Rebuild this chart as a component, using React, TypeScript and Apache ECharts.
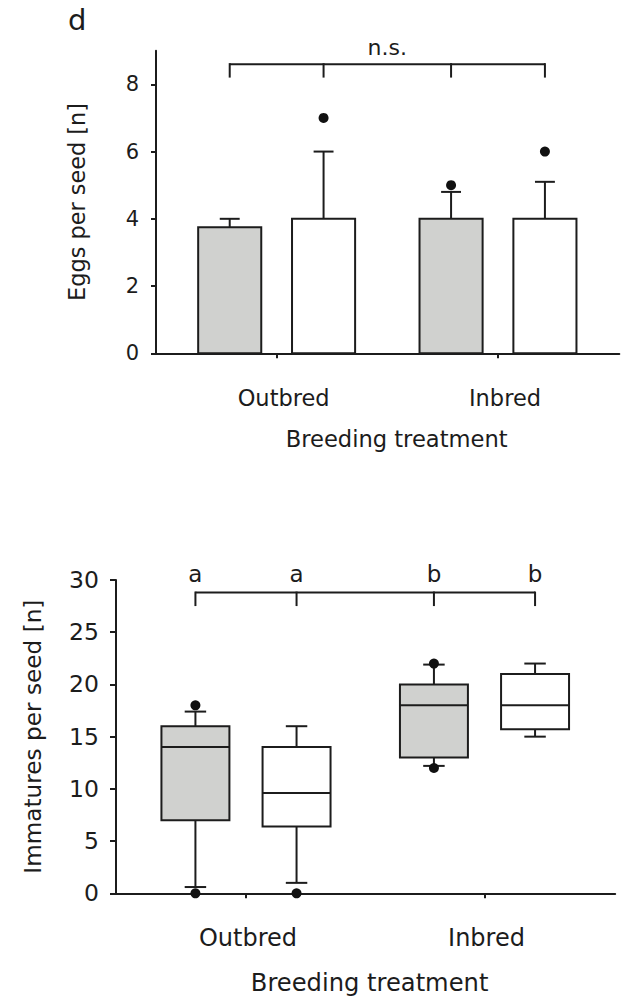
import React, { useEffect, useRef } from 'react';
import * as echarts from 'echarts';

// ---------- data ----------
const groups = ['Outbred', 'Inbred'];
const xTitle = 'Breeding treatment';

// panel d (top): eggs per seed
const eggTitle = 'Eggs per seed [n]';
const eggTicks = [0, 2, 4, 6, 8];
const eggGreyBar = [3.75, 4];
const eggGreyErr = [4, 4.8];
const eggGreyOut = [null, 5];
const eggWhiteBar = [4, 4];
const eggWhiteErr = [6, 5.1];
const eggWhiteOut = [7, 6];
const eggBracketTop = 8.6;
const eggBracketTick = 8.23;
const eggSignif = 'n.s.';
const eggSignifAt = 8.78;

// bottom panel: immatures per seed  [min, q1, median, q3, max]
const immTitle = 'Immatures per seed [n]';
const immTicks = [0, 5, 10, 15, 20, 25, 30];
const immGreyBox = [
  [0.6, 7, 14, 16, 17.4],
  [12.2, 13, 18, 20, 21.9],
];
const immWhiteBox = [
  [1, 6.4, 9.6, 14, 16],
  [15, 15.7, 18, 21, 22],
];
const immGreyOut = [[0, 18], [12, 22]];
const immWhiteOut = [[0], []];
const immLetters = ['a', 'a', 'b', 'b'];
const immLetterAt = 29.5;
const immBracketTop = 28.8;
const immBracketTick = 27.6;

// ---------- style / layout ----------
const INK = '#1c1c1c';
const GREY = '#d0d1cf';
const FONT = 'DejaVu Sans';
const OFF = 0.212;
const BW = 0.285;
const CAP = 0.09;
const XMIN = -0.545;
const XMAX = 1.548;

const xs = groups.flatMap((_, i) => [i - OFF, i + OFF]);

function barItem(params: any, api: any) {
  const x = api.value(0), m = api.value(1), u = api.value(2), f = api.value(3);
  const bl = api.coord([x - BW / 2, 0]);
  const tr = api.coord([x + BW / 2, m]);
  const a = api.coord([x, m]);
  const b = api.coord([x, u]);
  const c1 = api.coord([x - CAP / 2, u]);
  const c2 = api.coord([x + CAP / 2, u]);
  return {
    type: 'group',
    children: [
      { type: 'line', shape: { x1: a[0], y1: a[1], x2: b[0], y2: b[1] }, style: { stroke: INK, lineWidth: 2 } },
      { type: 'line', shape: { x1: c1[0], y1: c1[1], x2: c2[0], y2: c2[1] }, style: { stroke: INK, lineWidth: 2 } },
      {
        type: 'rect',
        shape: { x: bl[0], y: tr[1], width: tr[0] - bl[0], height: bl[1] - tr[1] },
        style: { fill: f ? '#ffffff' : GREY, stroke: INK, lineWidth: 2 },
      },
    ],
  };
}

function boxItem(params: any, api: any) {
  const x = api.value(0);
  const mn = api.value(1), q1 = api.value(2), md = api.value(3), q3 = api.value(4), mx = api.value(5);
  const f = api.value(6);
  const L = (x1: number, y1: number, x2: number, y2: number) => {
    const p = api.coord([x1, y1]);
    const q = api.coord([x2, y2]);
    return { type: 'line', shape: { x1: p[0], y1: p[1], x2: q[0], y2: q[1] }, style: { stroke: INK, lineWidth: 2 } };
  };
  const bl = api.coord([x - BW / 2, q1]);
  const tr = api.coord([x + BW / 2, q3]);
  return {
    type: 'group',
    children: [
      L(x, mn, x, q1),
      L(x - CAP / 2, mn, x + CAP / 2, mn),
      L(x, q3, x, mx),
      L(x - CAP / 2, mx, x + CAP / 2, mx),
      {
        type: 'rect',
        shape: { x: bl[0], y: tr[1], width: tr[0] - bl[0], height: bl[1] - tr[1] },
        style: { fill: f ? '#ffffff' : GREY, stroke: INK, lineWidth: 2 },
      },
      L(x - BW / 2, md, x + BW / 2, md),
    ],
  };
}

function bracketItem(top: number) {
  return (params: any, api: any) => {
    const i = params.dataIndex;
    const x = api.value(0);
    const p = api.coord([x, api.value(1)]);
    const q = api.coord([x, api.value(2)]);
    const children: any[] = [
      { type: 'line', shape: { x1: p[0], y1: p[1], x2: q[0], y2: q[1] }, style: { stroke: INK, lineWidth: 2, lineCap: 'square' } },
    ];
    if (i < xs.length - 1) {
      const r = api.coord([xs[i + 1], top]);
      children.push({ type: 'line', shape: { x1: p[0], y1: p[1], x2: r[0], y2: r[1] }, style: { stroke: INK, lineWidth: 2 } });
    }
    return { type: 'group', children };
  };
}

function textItem(size: number) {
  return (params: any, api: any) => {
    const p = api.coord([api.value(0), api.value(1)]);
    return {
      type: 'text',
      style: {
        text: String(api.value(2)),
        x: p[0],
        y: p[1],
        textAlign: 'center',
        textVerticalAlign: 'bottom',
        fontSize: size,
        fontFamily: FONT,
        fill: INK,
      },
    };
  };
}

export default function App() {
  const ref = useRef<HTMLDivElement>(null);
  useEffect(() => {
    if (!ref.current) return;
    const chart = echarts.init(ref.current, null, { renderer: 'svg' });

    const eggBars = groups.flatMap((_, i) => [
      [i - OFF, eggGreyBar[i], eggGreyErr[i], 0],
      [i + OFF, eggWhiteBar[i], eggWhiteErr[i], 1],
    ]);
    const eggOut: any[] = [];
    groups.forEach((_, i) => {
      if (eggGreyOut[i] != null) eggOut.push([i - OFF, eggGreyOut[i]]);
      if (eggWhiteOut[i] != null) eggOut.push([i + OFF, eggWhiteOut[i]]);
    });
    const immBoxes = groups.flatMap((_, i) => [
      [i - OFF, ...immGreyBox[i], 0],
      [i + OFF, ...immWhiteBox[i], 1],
    ]);
    const immOut: any[] = [];
    groups.forEach((_, i) => {
      immGreyOut[i].forEach((v) => immOut.push([i - OFF, v]));
      immWhiteOut[i].forEach((v) => immOut.push([i + OFF, v]));
    });

    const xAxisBase = (grid: number, labelSize: number, nameSize: number, nameGap: number, labelPad: number, namePad: number) => ({
      gridIndex: grid,
      type: 'value',
      min: XMIN,
      max: XMAX,
      splitLine: { show: false },
      axisLine: { onZero: false, lineStyle: { color: INK, width: 2 } },
      axisTick: { show: true, customValues: [0, 1], length: 5, lineStyle: { color: INK, width: 2 } },
      axisLabel: {
        customValues: [0, 1],
        formatter: (v: number) => groups[Math.round(v)] ?? '',
        margin: 33,
        fontSize: labelSize,
        fontFamily: FONT,
        color: INK,
        padding: [0, 0, 0, labelPad],
      },
      name: xTitle,
      nameLocation: 'middle',
      nameGap,
      nameTextStyle: { fontSize: nameSize, fontFamily: FONT, color: INK, padding: [0, 0, 0, namePad] },
    });

    const yAxisBase = (grid: number, max: number, ticks: number[], title: string, labelSize: number, nameSize: number, nameGap: number, tickLen: number) => ({
      gridIndex: grid,
      type: 'value',
      min: 0,
      max,
      splitLine: { show: false },
      axisLine: { show: true, onZero: false, lineStyle: { color: INK, width: 2 } },
      axisTick: { show: true, customValues: ticks, length: tickLen, lineStyle: { color: INK, width: 2 } },
      axisLabel: { customValues: ticks, margin: 17, fontSize: labelSize, fontFamily: FONT, color: INK },
      name: title,
      nameLocation: 'middle',
      nameGap,
      nameTextStyle: { fontSize: nameSize, fontFamily: FONT, color: INK },
    });

    chart.setOption({
      animation: false,
      backgroundColor: '#ffffff',
      textStyle: { fontFamily: FONT, color: INK },
      grid: [
        { left: 156, right: 11.7, top: 50.7, bottom: 643.7 },
        { left: 116, right: 15.8, top: 580, bottom: 103.7 },
      ],
      xAxis: [
        xAxisBase(0, 22.5, 22.6, 74, 14, 18),
        xAxisBase(1, 24, 24.2, 78, 4, 8),
      ],
      yAxis: [
        yAxisBase(0, 9, eggTicks, eggTitle, 21, 22.4, 68, 5),
        yAxisBase(1, 30, immTicks, immTitle, 23.5, 23.2, 72, 6),
      ],
      graphic: [
        { type: 'text', left: 68, top: 5, style: { text: 'd', fontSize: 29, fontFamily: FONT, fill: INK } },
      ],
      series: [
        { type: 'custom', xAxisIndex: 0, yAxisIndex: 0, renderItem: barItem, data: eggBars, z: 3 },
        {
          type: 'scatter', xAxisIndex: 0, yAxisIndex: 0, data: eggOut, symbol: 'circle', symbolSize: 10,
          itemStyle: { color: '#111111', opacity: 1 }, clip: false, z: 5,
        },
        {
          type: 'custom', xAxisIndex: 0, yAxisIndex: 0, renderItem: bracketItem(eggBracketTop),
          data: xs.map((x) => [x, eggBracketTop, eggBracketTick]), z: 3,
        },
        {
          type: 'custom', xAxisIndex: 0, yAxisIndex: 0, renderItem: textItem(22),
          data: [[0.5, eggSignifAt, eggSignif]], z: 3,
        },
        { type: 'custom', xAxisIndex: 1, yAxisIndex: 1, renderItem: boxItem, data: immBoxes, z: 3 },
        {
          type: 'scatter', xAxisIndex: 1, yAxisIndex: 1, data: immOut, symbol: 'circle', symbolSize: 10,
          itemStyle: { color: '#111111', opacity: 1 }, clip: false, z: 5,
        },
        {
          type: 'custom', xAxisIndex: 1, yAxisIndex: 1, renderItem: bracketItem(immBracketTop),
          data: xs.map((x) => [x, immBracketTop, immBracketTick]), z: 3,
        },
        {
          type: 'custom', xAxisIndex: 1, yAxisIndex: 1, renderItem: textItem(23),
          data: xs.map((x, i) => [x, immLetterAt, immLetters[i]]), z: 3,
        },
      ],
    });
    return () => chart.dispose();
  }, []);
  return <div ref={ref} style={{ position: 'absolute', left: 0, top: 0, width: 631, height: 997 }} />;
}
